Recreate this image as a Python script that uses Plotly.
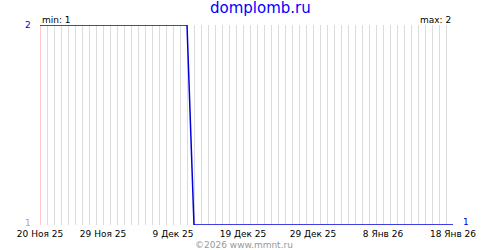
import plotly.graph_objects as go
import pandas as pd

# Data
start_date = "2025-11-20"
end_date = "2026-01-18"
values = [2, 2, 2, 2, 2, 2, 2, 2, 2, 2,
          2, 2, 2, 2, 2, 2, 2, 2, 2, 2,
          2, 2, 1, 1, 1, 1, 1, 1, 1, 1,
          1, 1, 1, 1, 1, 1, 1, 1, 1, 1,
          1, 1, 1, 1, 1, 1, 1, 1, 1, 1,
          1, 1, 1, 1, 1, 1, 1, 1, 1, 1]
tick_dates = ["2025-11-20", "2025-11-29", "2025-12-09", "2025-12-19",
              "2025-12-29", "2026-01-08", "2026-01-18"]
tick_labels = ["20 Ноя 25", "29 Ноя 25", "9 Дек 25", "19 Дек 25",
               "29 Дек 25", "8 Янв 26", "18 Янв 26"]
title_text = "domplomb.ru"
footer_text = "©2026 www.mmnt.ru"
min_val = 1
max_val = 2
last_val = 1

dates = pd.date_range(start_date, end_date, freq="D")

FONT = "DejaVu Sans"
BLUE = "#0000dd"

fig = go.Figure()
fig.add_trace(go.Scatter(x=dates, y=values, mode="lines",
                         line=dict(color=BLUE, width=1.5), hoverinfo="skip"))

fig.update_layout(
    width=500, height=250,
    margin=dict(l=40, r=47, t=25, b=25),
    paper_bgcolor="white", plot_bgcolor="white",
    showlegend=False,
    font=dict(family=FONT, size=9, color="black"),
    xaxis=dict(
        type="date",
        range=[start_date, end_date],
        tickvals=tick_dates, ticktext=tick_labels,
        showgrid=False,
        ticks="", showline=False, zeroline=False,
        tickfont=dict(family=FONT, size=9, color="black"),
        minor=dict(dtick=86400000, tick0=start_date, showgrid=True,
                   gridcolor="#dcdcdc", gridwidth=1, ticks=""),
        ticklabelstandoff=2,
    ),
    yaxis=dict(
        range=[min_val, max_val],
        tickvals=[min_val, max_val], showticklabels=False,
        showgrid=True, gridcolor="#dcdcdc", gridwidth=1,
        zeroline=False, showline=False, ticks="",
    ),
)

# Pink lines at labelled dates (pixel-aligned)
for d in tick_dates:
    fig.add_shape(type="line", xref="x", yref="paper", xsizemode="pixel", xanchor=d,
                  x0=0.5, x1=0.5, y0=0, y1=1,
                  line=dict(color="#ffc8c8", width=1), layer="between")

# Title
fig.add_annotation(text=title_text, xref="paper", yref="paper",
                   x=0.535, y=1.0, yshift=17, xanchor="center", yanchor="middle",
                   showarrow=False, font=dict(family=FONT, size=15, color="#0000ff"))
# min / max
fig.add_annotation(text=f"min: {min_val}", xref="paper", yref="paper",
                   x=0, y=1, xanchor="left", yanchor="bottom", showarrow=False,
                   yshift=-2, font=dict(family=FONT, size=9, color="black"))
fig.add_annotation(text=f"max: {max_val}", xref="paper", yref="paper",
                   x=1, y=1, xanchor="right", yanchor="bottom", showarrow=False,
                   yshift=-2, font=dict(family=FONT, size=9, color="black"))
# y labels
fig.add_annotation(text=str(max_val), xref="paper", yref="y",
                   x=0, y=max_val, xanchor="right", yanchor="middle", xshift=-7,
                   showarrow=False, font=dict(family=FONT, size=9, color=BLUE))
fig.add_annotation(text=str(min_val), xref="paper", yref="y",
                   x=0, y=min_val, xanchor="right", yanchor="bottom", xshift=-7, yshift=-5,
                   showarrow=False, font=dict(family=FONT, size=9, color="#aaaaaa"))
# last value on right
fig.add_annotation(text=str(last_val), xref="paper", yref="y",
                   x=1, y=last_val, xanchor="left", yanchor="bottom", xshift=8, yshift=-4,
                   showarrow=False, font=dict(family=FONT, size=9, color=BLUE))
# footer
fig.add_annotation(text=footer_text, xref="paper", yref="paper",
                   x=0.37, y=0, yshift=-27, xanchor="left", yanchor="bottom",
                   showarrow=False, font=dict(family=FONT, size=9, color="#999999"))

fig.write_html("out.html")
